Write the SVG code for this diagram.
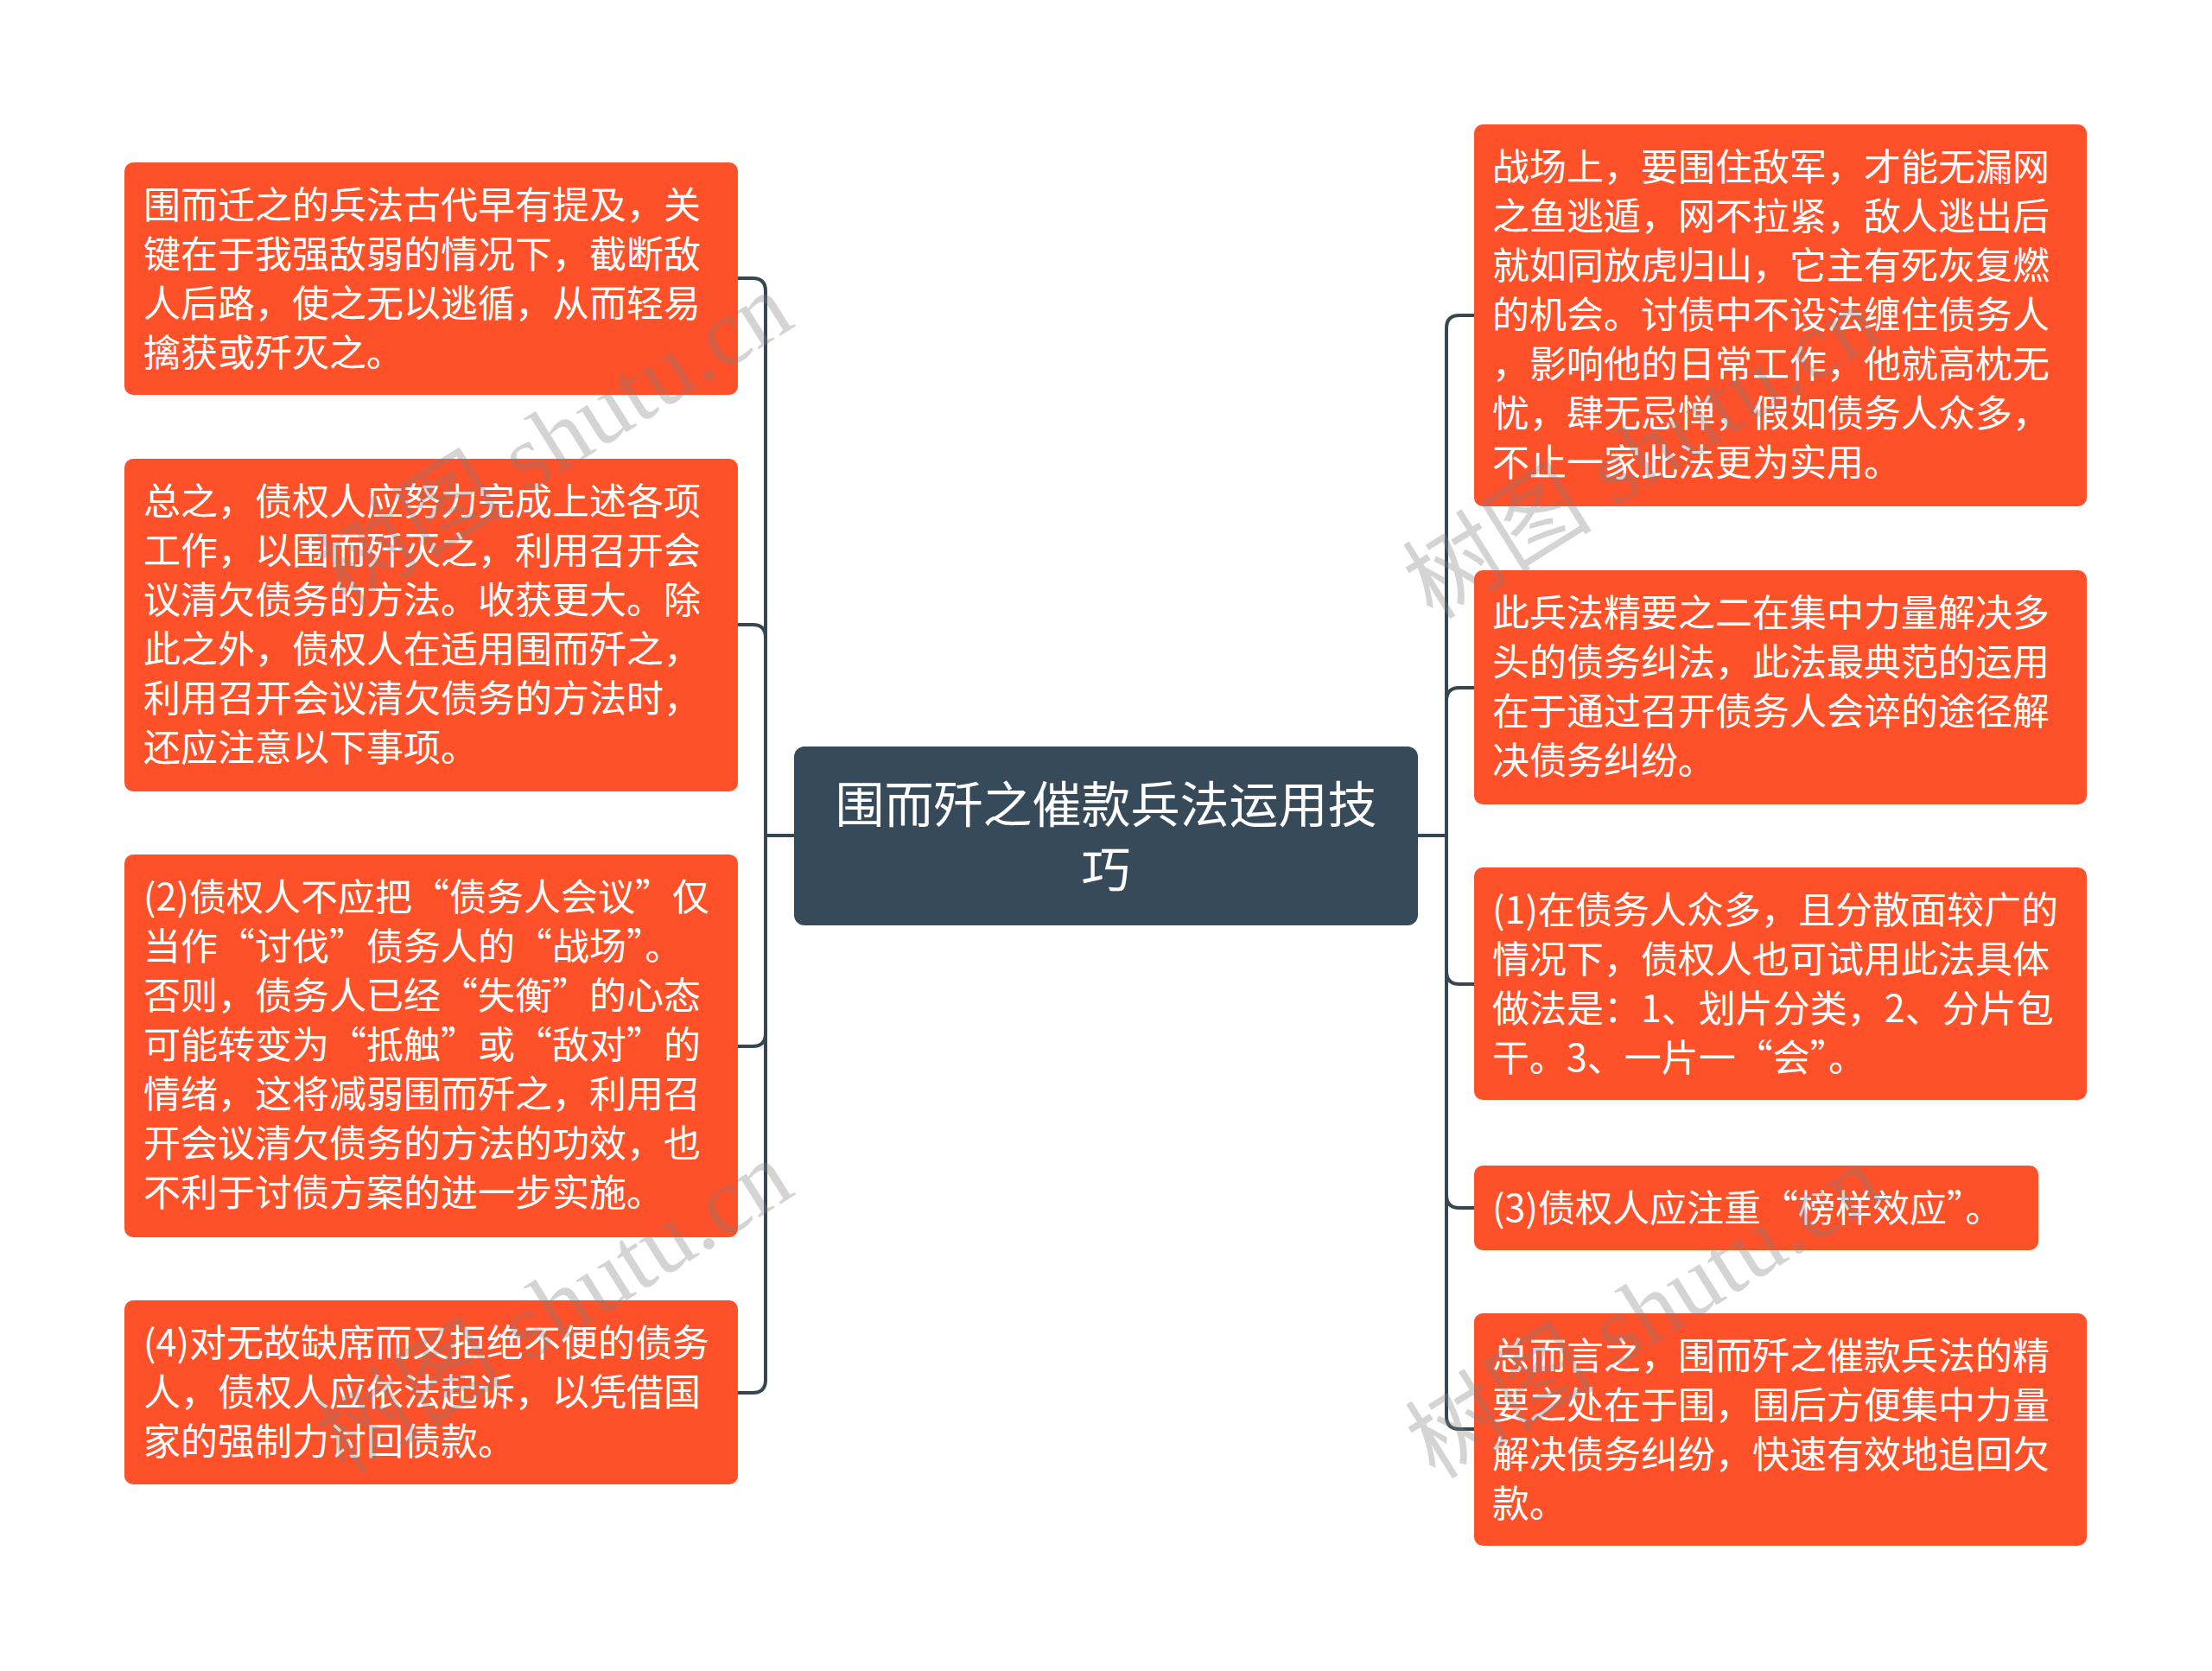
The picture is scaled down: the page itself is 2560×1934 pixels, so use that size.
<svg xmlns="http://www.w3.org/2000/svg" width="2560" height="1934" viewBox="0 0 2560 1934">
<style>
.node{fill:#fe5029;}
.t{font-family:"Noto Sans CJK SC","Noto Sans",sans-serif;font-size:43px;fill:#ffffff;}
.ct{font-family:"Noto Sans CJK SC","Noto Sans",sans-serif;font-size:57px;fill:#ffffff;text-anchor:middle;}
.link{fill:none;stroke:#37474f;stroke-width:4;}
.wm{font-family:"Liberation Serif","Noto Sans CJK SC",serif;font-size:110px;fill:#808080;opacity:0.33;}
</style>
<rect width="2560" height="1934" fill="#ffffff"/>
<g id="connectors">
<path class="link" d="M919 967 H886 V337 Q886 322 871 322 H854"/>
<path class="link" d="M919 967 H886 V738 Q886 723 871 723 H854"/>
<path class="link" d="M919 967 H886 V1196 Q886 1211 871 1211 H854"/>
<path class="link" d="M919 967 H886 V1597 Q886 1612 871 1612 H854"/>
<path class="link" d="M1641 967 H1674 V380 Q1674 365 1689 365 H1706"/>
<path class="link" d="M1641 967 H1674 V811 Q1674 796 1689 796 H1706"/>
<path class="link" d="M1641 967 H1674 V1124 Q1674 1139 1689 1139 H1706"/>
<path class="link" d="M1641 967 H1674 V1383 Q1674 1398 1689 1398 H1706"/>
<path class="link" d="M1641 967 H1674 V1639 Q1674 1654 1689 1654 H1706"/>
</g>
<g id="center">
<rect x="919" y="864" width="722" height="207" rx="12" fill="#374a5a"/>
<text class="ct" x="1280" y="952">围而歼之催款兵法运用技</text>
<text class="ct" x="1280" y="1027">巧</text>
</g>
<g id="L1">
<rect class="node" x="144" y="188" width="710" height="269" rx="10"/>
<text class="t"><tspan x="166" y="253">围而迁之的兵法古代早有提及，关</tspan><tspan x="166" y="310">键在于我强敌弱的情况下，截断敌</tspan><tspan x="166" y="367">人后路，使之无以逃循，从而轻易</tspan><tspan x="166" y="424">擒获或歼灭之。</tspan></text>
</g>
<g id="L2">
<rect class="node" x="144" y="531" width="710" height="385" rx="10"/>
<text class="t"><tspan x="166" y="596">总之，债权人应努力完成上述各项</tspan><tspan x="166" y="653">工作，以围而歼灭之，利用召开会</tspan><tspan x="166" y="710">议清欠债务的方法。收获更大。除</tspan><tspan x="166" y="767">此之外，债权人在适用围而歼之，</tspan><tspan x="166" y="824">利用召开会议清欠债务的方法时，</tspan><tspan x="166" y="881">还应注意以下事项。</tspan></text>
</g>
<g id="L3">
<rect class="node" x="144" y="989" width="710" height="443" rx="10"/>
<text class="t"><tspan x="166" y="1054">(2)债权人不应把“债务人会议”仅</tspan><tspan x="166" y="1111">当作“讨伐”债务人的“战场”。</tspan><tspan x="166" y="1168">否则，债务人已经“失衡”的心态</tspan><tspan x="166" y="1225">可能转变为“抵触”或“敌对”的</tspan><tspan x="166" y="1282">情绪，这将减弱围而歼之，利用召</tspan><tspan x="166" y="1339">开会议清欠债务的方法的功效，也</tspan><tspan x="166" y="1396">不利于讨债方案的进一步实施。</tspan></text>
</g>
<g id="L4">
<rect class="node" x="144" y="1505" width="710" height="213" rx="10"/>
<text class="t"><tspan x="166" y="1570">(4)对无故缺席而又拒绝不便的债务</tspan><tspan x="166" y="1627">人，债权人应依法起诉，以凭借国</tspan><tspan x="166" y="1684">家的强制力讨回债款。</tspan></text>
</g>
<g id="R1">
<rect class="node" x="1706" y="144" width="709" height="442" rx="10"/>
<text class="t"><tspan x="1727" y="209">战场上，要围住敌军，才能无漏网</tspan><tspan x="1727" y="266">之鱼逃遁，网不拉紧，敌人逃出后</tspan><tspan x="1727" y="323">就如同放虎归山，它主有死灰复燃</tspan><tspan x="1727" y="380">的机会。讨债中不设法缠住债务人</tspan><tspan x="1727" y="437">，影响他的日常工作，他就高枕无</tspan><tspan x="1727" y="494">忧，肆无忌惮，假如债务人众多，</tspan><tspan x="1727" y="551">不止一家此法更为实用。</tspan></text>
</g>
<g id="R2">
<rect class="node" x="1706" y="660" width="709" height="271" rx="10"/>
<text class="t"><tspan x="1727" y="725">此兵法精要之二在集中力量解决多</tspan><tspan x="1727" y="782">头的债务纠法，此法最典范的运用</tspan><tspan x="1727" y="839">在于通过召开债务人会谇的途径解</tspan><tspan x="1727" y="896">决债务纠纷。</tspan></text>
</g>
<g id="R3">
<rect class="node" x="1706" y="1004" width="709" height="269" rx="10"/>
<text class="t"><tspan x="1727" y="1069">(1)在债务人众多，且分散面较广的</tspan><tspan x="1727" y="1126">情况下，债权人也可试用此法具体</tspan><tspan x="1727" y="1183">做法是：1、划片分类，2、分片包</tspan><tspan x="1727" y="1240">干。3、一片一“会”。</tspan></text>
</g>
<g id="R4">
<rect class="node" x="1706" y="1349" width="653" height="98" rx="10"/>
<text class="t" x="1727" y="1414">(3)债权人应注重“榜样效应”。</text>
</g>
<g id="R5">
<rect class="node" x="1706" y="1520" width="709" height="269" rx="10"/>
<text class="t"><tspan x="1727" y="1585">总而言之，围而歼之催款兵法的精</tspan><tspan x="1727" y="1642">要之处在于围，围后方便集中力量</tspan><tspan x="1727" y="1699">解决债务纠纷，快速有效地追回欠</tspan><tspan x="1727" y="1756">款。</tspan></text>
</g>
<g id="watermarks">
<text class="wm" text-anchor="middle" transform="translate(661 540) rotate(-32)">树图 shutu.cn</text>
<text class="wm" text-anchor="middle" transform="translate(661 1545) rotate(-32)">树图 shutu.cn</text>
<text class="wm" text-anchor="middle" transform="translate(1920 555) rotate(-32)">树图 shutu.cn</text>
<text class="wm" text-anchor="middle" transform="translate(1923 1550) rotate(-32)">树图 shutu.cn</text>
</g>
</svg>
